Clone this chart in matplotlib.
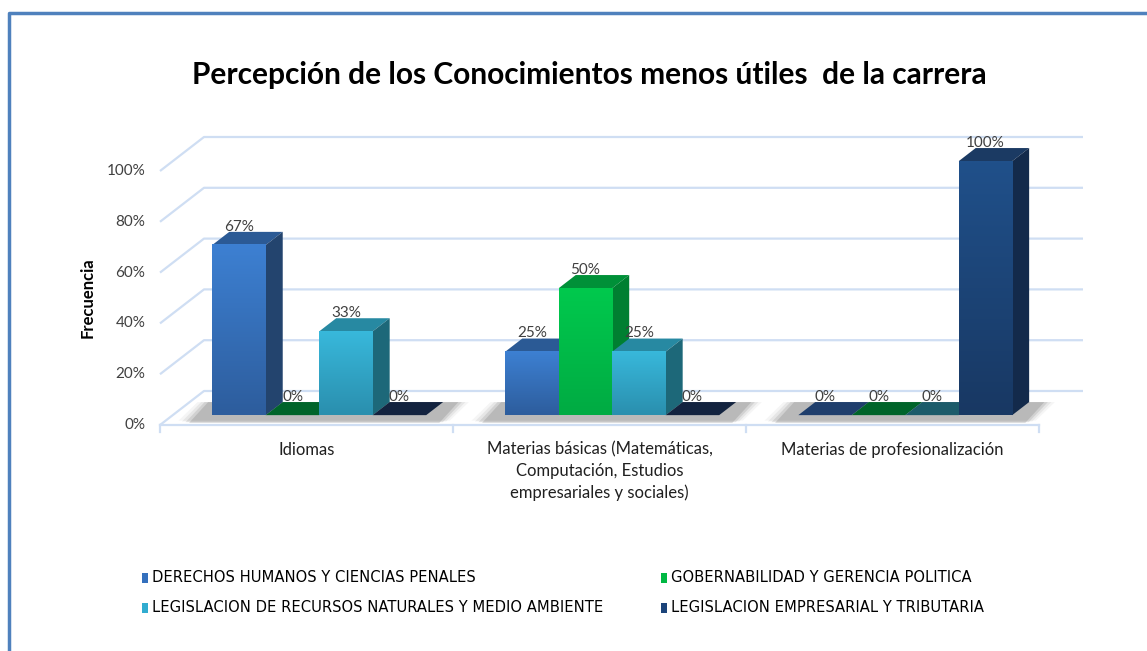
import numpy as np
import matplotlib
matplotlib.use("Agg")
import matplotlib.pyplot as plt
from matplotlib.patches import Polygon, Rectangle
from matplotlib.lines import Line2D

# ---- data ----
categories = [
    "Idiomas",
    "Materias básicas (Matemáticas,\nComputación, Estudios\nempresariales y sociales)",
    "Materias de profesionalización",
]
series_names = [
    "DERECHOS HUMANOS Y CIENCIAS PENALES",
    "GOBERNABILIDAD Y GERENCIA POLITICA",
    "LEGISLACION DE RECURSOS NATURALES Y MEDIO AMBIENTE",
    "LEGISLACION EMPRESARIAL Y TRIBUTARIA",
]
derechos = [67, 25, 0]
gobernabilidad = [0, 50, 0]
recursos = [33, 25, 0]
empresarial = [0, 0, 100]
y_ticks = [0, 20, 40, 60, 80, 100]

values = [derechos, gobernabilidad, recursos, empresarial]

# colours: front-top, front-bottom, top face, side face, zero-height top
front_top = ["#3d80d2", "#00c94d", "#38b8db", "#20508a"]
front_bot = ["#2d5d9d", "#00ab43", "#2a8fae", "#183863"]
top_col = ["#2b5a95", "#009038", "#2789a2", "#1b3a63"]
side_col = ["#23446e", "#007f31", "#1d6879", "#132a4b"]
zero_col = ["#1f3e6c", "#00642a", "#1c5b6a", "#13233f"]
legend_col = ["#3470bd", "#00b843", "#31acd0", "#1c447a"]

text_col = "#404040"
grid_col = "#cfdef3"
plt.rcParams["font.family"] = ["Lato", "DejaVu Sans"]

W, H = 1147, 651
fig = plt.figure(figsize=(W / 100, H / 100), dpi=100)
ax = fig.add_axes([0, 0, 1, 1])
ax.axis("off")

# pixel geometry of the front plane
px_cat = 293.0      # pixels per category
px_pct = 2.54       # pixels per percent
x0_px, y0_px = 160, 425
DX = 44 / px_cat    # full depth shift (x, in categories)
DY = 34 / px_pct    # full depth shift (y, in percent)
d0, d1 = 0.29, 0.675   # bar depth range
bw = 0.1825
g0 = 0.135

def P(x, y, d):
    return (x + d * DX, y + d * DY)

# gridlines (side wall diagonal + back wall)
for v in y_ticks:
    xs = [0, DX, 3 + DX]
    ys = [v, v + DY, v + DY]
    ax.plot(xs, ys, color=grid_col, lw=1.6, zorder=1, solid_capstyle="butt")
    ax.text(-0.05, v, f"{v}%", ha="right", va="center", fontsize=11, color=text_col)

# front axis line and ticks
ax.plot([0, 3], [0, 0], color=grid_col, lw=1.6, zorder=1)
for i in range(4):
    ax.plot([i, i], [0, -7 / px_pct], color=grid_col, lw=1.6, zorder=1)

for i, cat in enumerate(categories):
    ax.text(i + 0.5, -6.5, cat, ha="center", va="top", fontsize=12,
            color="#202020", linespacing=1.4)

ax.text((88 - x0_px) / px_cat, 50, "Frecuencia", rotation=90, ha="center",
        va="center", fontsize=12, fontweight="bold", color="black")

# shadows under the groups
for i in range(3):
    xa = i + g0
    xb = i + g0 + 4 * bw
    for k, a in enumerate([0.05, 0.08, 0.12, 0.16]):
        grow = (4 - k) * 0.012
        pts = [P(xa - grow - 0.06, -1.5 - k * 0.3, d0 - 0.05),
               P(xb + grow + 0.04, -1.5 - k * 0.3, d0 - 0.05),
               P(xb + grow + 0.04, 0, d1),
               P(xa - grow - 0.06, 0, d1)]
        ax.add_patch(Polygon(pts, closed=True, facecolor="#404040",
                             edgecolor="none", alpha=a, zorder=2))

# bars
grad = np.linspace(0, 1, 64).reshape(-1, 1)
for i in range(3):
    for s in range(4):
        v = values[s][i]
        x = i + g0 + s * bw
        z = 5 + i * 20 + s * 4
        if v == 0:
            pts = [P(x, 0, d0), P(x + bw, 0, d0), P(x + bw, 0, d1), P(x, 0, d1)]
            ax.add_patch(Polygon(pts, closed=True, facecolor=zero_col[s],
                                 edgecolor="none", zorder=z))
        else:
            top = [P(x, v, d0), P(x + bw, v, d0), P(x + bw, v, d1), P(x, v, d1)]
            side = [P(x + bw, 0, d0), P(x + bw, v, d0), P(x + bw, v, d1), P(x + bw, 0, d1)]
            ax.add_patch(Polygon(top, closed=True, facecolor=top_col[s],
                                 edgecolor="none", zorder=z))
            ax.add_patch(Polygon(side, closed=True, facecolor=side_col[s],
                                 edgecolor="none", zorder=z))
            c1 = np.array(matplotlib.colors.to_rgb(front_bot[s]))
            c2 = np.array(matplotlib.colors.to_rgb(front_top[s]))
            img = c1 + (c2 - c1) * grad[:, :, None] * np.ones((1, 1, 3))
            fx, fy = P(x, 0, d0)
            ax.imshow(img, extent=(fx, fx + bw, fy, fy + v), origin="lower",
                      aspect="auto", zorder=z + 1, interpolation="bilinear")
        lx, ly = P(x + bw / 2, v, d0)
        ax.text(lx, ly + 7.2, f"{v}%", ha="center", va="center", fontsize=11,
                color=text_col, zorder=100)

ax.set_xlim(-x0_px / px_cat, (W - x0_px) / px_cat)
ax.set_ylim(-(H - y0_px) / px_pct, y0_px / px_pct)

# title
fig.text(589 / W, 1 - 75 / H, "Percepción de los Conocimientos menos útiles  de la carrera",
         ha="center", va="center", fontsize=21.5, fontweight="bold", color="black")

# legend (drawn by hand to match the layout)
leg_pos = [(142, 578), (661, 578), (142, 608), (661, 608)]
for s, (lx, ly) in enumerate(leg_pos):
    fig.patches.append(Rectangle((lx / W, 1 - (ly + 5) / H), 6 / W, 10 / H,
                                 transform=fig.transFigure, facecolor=legend_col[s],
                                 edgecolor="none"))
    fig.text((lx + 10) / W, 1 - ly / H, series_names[s], ha="left", va="center",
             fontsize=10.6, color="black", family=["Liberation Sans Narrow", "DejaVu Sans"])

# chart frame
fig.lines.append(Line2D([9 / W, 9 / W, 1], [0, 1 - 13 / H, 1 - 13 / H],
                        transform=fig.transFigure, color="#4f81bd", lw=2.5))

fig.savefig("out.png", dpi=100)
